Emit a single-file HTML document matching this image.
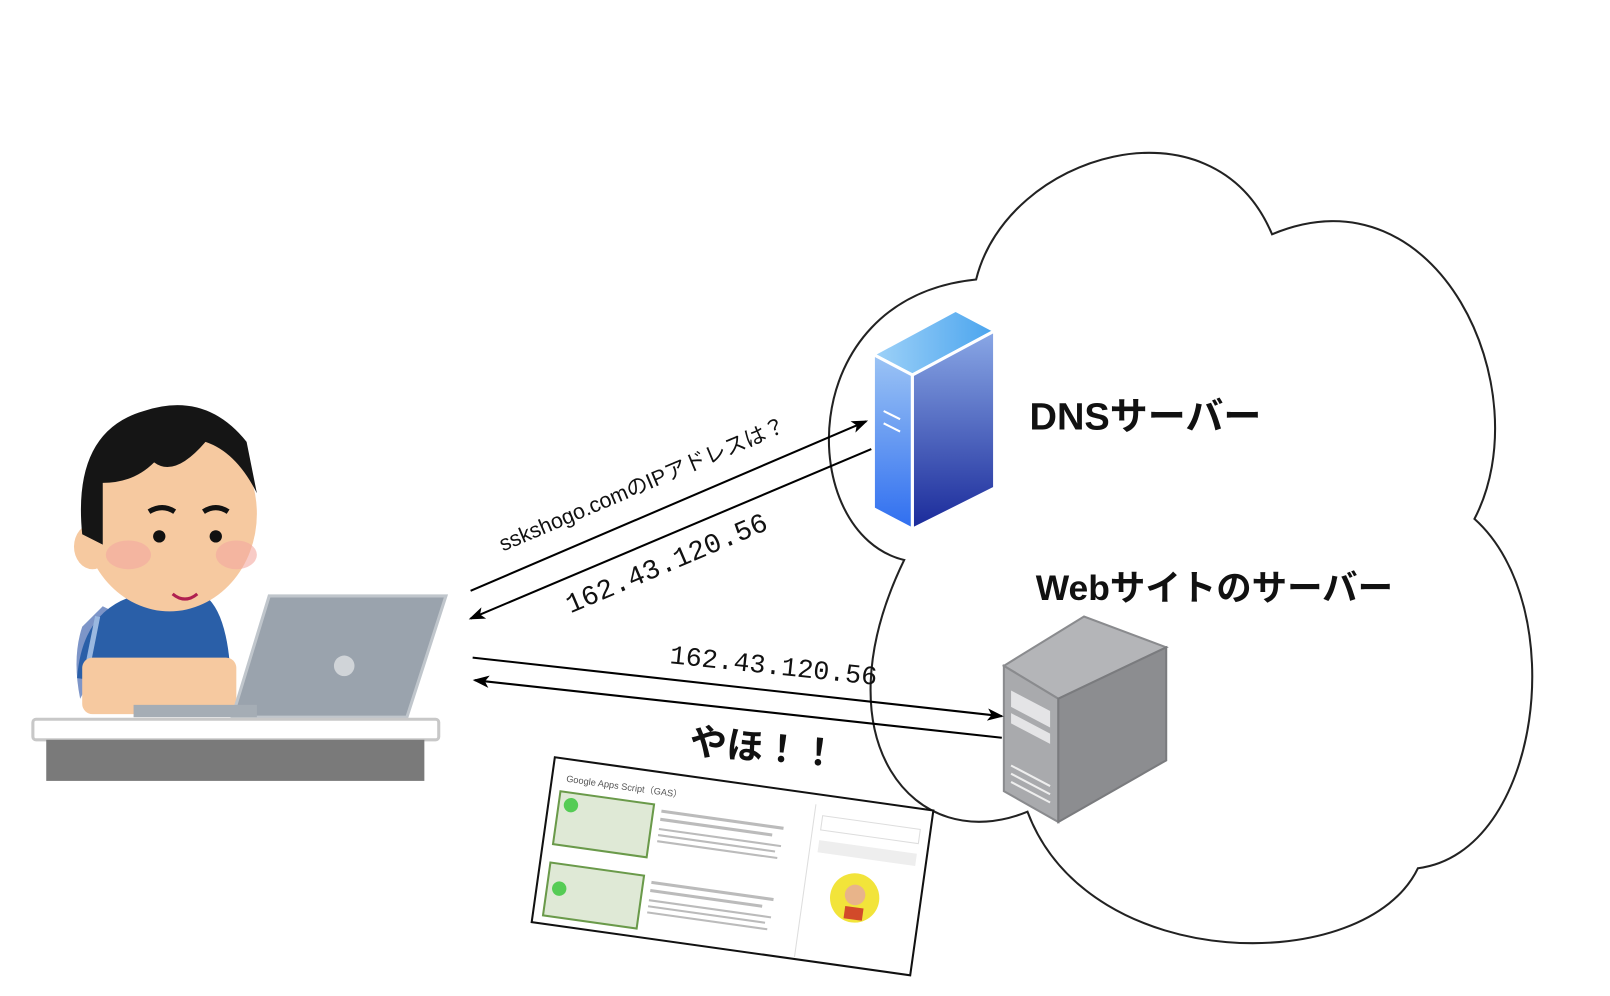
<!DOCTYPE html>
<html><head><meta charset="utf-8"><style>
html,body{margin:0;padding:0;background:#fff;}
svg{display:block;}
text{font-family:"Liberation Sans","Noto Sans CJK JP",sans-serif;}
.mono{font-family:"Liberation Mono","DejaVu Sans Mono",monospace;}
</style></head><body>
<svg width="1610" height="996" viewBox="0 0 1610 996" xmlns="http://www.w3.org/2000/svg">
<defs>
<marker id="ah" markerWidth="16" markerHeight="12" refX="14" refY="6" orient="auto" markerUnits="userSpaceOnUse">
<path d="M0,0 L16,6 L0,12 L4,6 Z" fill="#000"/></marker>
<linearGradient id="g1" x1="0" y1="0" x2="0" y2="1"><stop offset="0" stop-color="#9cc4f4"/><stop offset="1" stop-color="#2f6ef0"/></linearGradient>
<linearGradient id="g2" x1="0" y1="0" x2="0" y2="1"><stop offset="0" stop-color="#8aa8e6"/><stop offset="1" stop-color="#1a2a9a"/></linearGradient>
<linearGradient id="g3" x1="0" y1="0" x2="1" y2="0"><stop offset="0" stop-color="#9fd2f8"/><stop offset="1" stop-color="#4aa4ee"/></linearGradient>
</defs>
<g transform="scale(1.0275)">
<!-- cloud -->
<path d="M950 272 C980 150,1180 90,1238 228 C1400 160,1500 380,1435 505 C1530 590,1500 830,1380 845 C1330 950,1060 950,1000 790 C890 835,795 720,880 545 C775 520,770 290,950 272 Z" fill="#fff" stroke="#222" stroke-width="2"/>

<!-- DNS server -->
<polygon points="850,345 930,302 968,322 888,365" fill="url(#g3)" stroke="#fff" stroke-width="3"/>
<polygon points="850,345 888,365 888,515 850,495" fill="url(#g1)" stroke="#fff" stroke-width="3"/>
<polygon points="888,365 968,322 968,475 888,515" fill="url(#g2)" stroke="#fff" stroke-width="3"/>
<line x1="860" y1="400" x2="876" y2="408" stroke="#fff" stroke-width="2"/>
<line x1="860" y1="412" x2="876" y2="420" stroke="#fff" stroke-width="2"/>

<!-- web server -->
<polygon points="977,648 1055,600 1135,630 1030,680" fill="#b4b5b8" stroke="#8a8b8e" stroke-width="2"/>
<polygon points="977,648 1030,680 1030,800 977,770" fill="#a9aaad" stroke="#8a8b8e" stroke-width="2"/>
<polygon points="1030,680 1135,630 1135,740 1030,800" fill="#8c8d90" stroke="#7a7b7e" stroke-width="2"/>
<polygon points="984,672 1022,692 1022,708 984,688" fill="#e4e4e6"/>
<polygon points="984,694 1022,714 1022,724 984,704" fill="#e4e4e6"/>
<line x1="984" y1="745" x2="1022" y2="765" stroke="#eee" stroke-width="2"/>
<line x1="984" y1="753" x2="1022" y2="773" stroke="#eee" stroke-width="2"/>
<line x1="984" y1="761" x2="1022" y2="781" stroke="#eee" stroke-width="2"/>

<text x="1002" y="418" font-size="37" font-weight="bold" fill="#111">DNSサーバー</text>
<text x="1008" y="584" font-size="34.5" font-weight="bold" fill="#111">Webサイトのサーバー</text>

<!-- arrows -->
<line x1="458" y1="575" x2="843" y2="410" stroke="#000" stroke-width="2" marker-end="url(#ah)"/>
<line x1="848" y1="437" x2="458" y2="602" stroke="#000" stroke-width="2" marker-end="url(#ah)"/>
<line x1="460" y1="640" x2="975" y2="697" stroke="#000" stroke-width="2" marker-end="url(#ah)"/>
<line x1="975" y1="718" x2="462" y2="662" stroke="#000" stroke-width="2" marker-end="url(#ah)"/>

<text x="628" y="478" font-size="21" fill="#111" text-anchor="middle" transform="rotate(-23 628 478)">sskshogo.comのIPアドレスは？</text>
<text class="mono" x="652" y="556" font-size="27" fill="#111" text-anchor="middle" transform="rotate(-23 652 556)">162.43.120.56</text>
<text class="mono" x="752" y="656" font-size="26" fill="#111" text-anchor="middle" transform="rotate(6 752 656)">162.43.120.56</text>
<text x="742" y="740" font-size="36" font-weight="bold" fill="#111" text-anchor="middle" transform="rotate(5 742 740)">やほ！！</text>

<!-- website screenshot -->
<g transform="translate(540,737) rotate(8)">
<rect x="0" y="0" width="372" height="162" fill="#fff" stroke="#111" stroke-width="2"/>
<text x="14" y="22" font-size="9" fill="#555">Google Apps Script（GAS）</text>
<rect x="10" y="32" width="92" height="52" fill="#dfe9d6" stroke="#6a9a4a" stroke-width="2"/>
<rect x="10" y="102" width="92" height="52" fill="#dfe9d6" stroke="#6a9a4a" stroke-width="2"/>
<circle cx="22" cy="44" r="7" fill="#5c5"/><circle cx="22" cy="126" r="7" fill="#5c5"/>
<g fill="#bbb"><rect x="110" y="36" width="120" height="3"/><rect x="110" y="44" width="110" height="3"/><rect x="110" y="54" width="120" height="2"/><rect x="110" y="60" width="115" height="2"/><rect x="110" y="66" width="118" height="2"/><rect x="110" y="106" width="120" height="3"/><rect x="110" y="114" width="110" height="3"/><rect x="110" y="124" width="120" height="2"/><rect x="110" y="130" width="115" height="2"/><rect x="110" y="136" width="118" height="2"/></g>
<line x1="258" y1="10" x2="258" y2="160" stroke="#ddd"/>
<rect x="266" y="20" width="96" height="14" fill="none" stroke="#ddd"/>
<rect x="266" y="44" width="96" height="12" fill="#eee"/>
<circle cx="308" cy="95" r="24" fill="#f2e43a"/>
<circle cx="308" cy="92" r="10" fill="#e8b48a"/>
<rect x="300" y="104" width="18" height="12" fill="#d24a2a"/>
</g>

<!-- person -->
<g>
<path d="M78 680 Q70 640 80 610 L100 590 L120 600 Z" fill="#7d95c8"/>
<path d="M75 660 Q80 595 130 580 L200 580 Q225 600 225 680 Z" fill="#2a5fa8"/>
<path d="M95 600 L85 650" stroke="#9ab8e0" stroke-width="5"/>
<ellipse cx="165" cy="500" rx="85" ry="95" fill="#f6c9a0"/>
<ellipse cx="90" cy="532" rx="18" ry="22" fill="#f6c9a0"/>
<path d="M80 520 Q70 420 140 400 Q200 380 240 430 L250 480 Q230 440 200 430 Q170 465 150 450 Q130 470 100 470 L100 530 Z" fill="#151515"/>
<ellipse cx="125" cy="540" rx="22" ry="14" fill="#f4a8a0" opacity="0.6"/>
<ellipse cx="230" cy="540" rx="20" ry="14" fill="#f4a8a0" opacity="0.6"/>
<circle cx="155" cy="522" r="6" fill="#111"/><circle cx="210" cy="522" r="6" fill="#111"/>
<path d="M145 498 Q158 490 170 498 M198 498 Q210 490 222 498" stroke="#111" stroke-width="5" fill="none"/>
<path d="M168 578 Q180 588 192 578" stroke="#b02050" stroke-width="3" fill="none"/>
<rect x="80" y="640" width="150" height="55" rx="10" fill="#f6c9a0"/>
<polygon points="262,580 434,580 396,698 226,698" fill="#9aa3ad" stroke="#c0c6cc" stroke-width="3"/>
<circle cx="335" cy="648" r="10" fill="#d0d4d8"/>
<rect x="130" y="686" width="120" height="12" fill="#a5adb5"/>
<rect x="32" y="700" width="395" height="20" rx="3" fill="#fff" stroke="#c8c8c8" stroke-width="3"/>
<rect x="45" y="720" width="368" height="40" fill="#7a7a7a"/>
</g>
</g>
</svg>
</body></html>
